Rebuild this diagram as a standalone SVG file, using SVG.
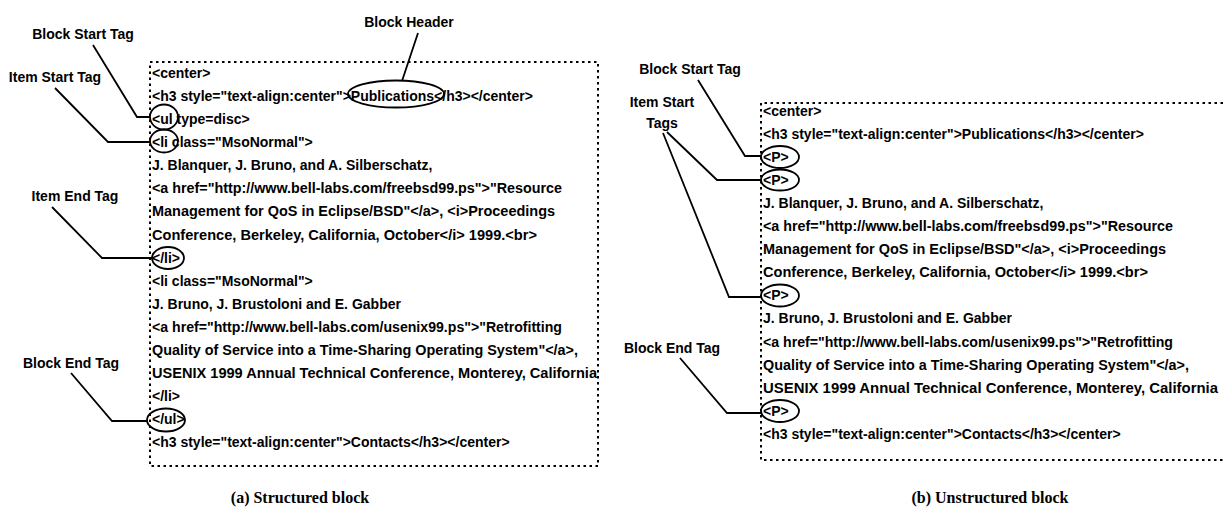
<svg xmlns="http://www.w3.org/2000/svg" width="1223" height="517" viewBox="0 0 1223 517">
  <style>
    .code { font-family: "Liberation Sans", Arial, sans-serif; font-weight: bold; font-size: 14px; fill: #000; }
    .label { font-family: "Liberation Sans", Arial, sans-serif; font-weight: bold; font-size: 14px; fill: #000; }
    .caption { font-family: "Liberation Serif", "Times New Roman", serif; font-weight: bold; font-size: 16px; fill: #000; }
    .box { fill: none; stroke: #000; stroke-width: 2; stroke-dasharray: 2.5 3.5; }
    .ring { fill: none; stroke: #000; stroke-width: 1.8; }
    .wire { fill: none; stroke: #000; stroke-width: 1.8; stroke-linejoin: miter; }
  </style>
  <rect width="1223" height="517" fill="#fff"/>

  <!-- (a) structured block: dotted frame and HTML source -->
  <g id="block-a">
    <rect class="box" x="150" y="62" width="448" height="404"/>
    <g class="code" xml:space="preserve">
      <text x="152" y="78">&lt;center&gt;</text>
      <text x="152" y="101">&lt;h3 style="text-align:center"&gt;Publications&lt;/h3&gt;&lt;/center&gt;</text>
      <text x="152" y="124">&lt;ul type=disc&gt;</text>
      <text x="152" y="147">&lt;li class="MsoNormal"&gt;</text>
      <text x="152" y="170.2">J. Blanquer, J. Bruno,  and A. Silberschatz,</text>
      <text x="152" y="193.3" textLength="410" lengthAdjust="spacingAndGlyphs">&lt;a href="http://www.bell-labs.com/freebsd99.ps"&gt;"Resource</text>
      <text x="152" y="216.4" textLength="403" lengthAdjust="spacingAndGlyphs">Management for QoS in Eclipse/BSD"&lt;/a&gt;, &lt;i&gt;Proceedings</text>
      <text x="152" y="239.5" textLength="385" lengthAdjust="spacingAndGlyphs">Conference, Berkeley, California, October&lt;/i&gt; 1999.&lt;br&gt;</text>
      <text x="152" y="262.6">&lt;/li&gt;</text>
      <text x="152" y="285.7">&lt;li class="MsoNormal"&gt;</text>
      <text x="152" y="308.8">J. Bruno, J. Brustoloni and E. Gabber</text>
      <text x="152" y="331.9" textLength="410" lengthAdjust="spacingAndGlyphs">&lt;a href="http://www.bell-labs.com/usenix99.ps"&gt;"Retrofitting</text>
      <text x="152" y="355" textLength="426" lengthAdjust="spacingAndGlyphs">Quality of Service into a Time-Sharing Operating System"&lt;/a&gt;,</text>
      <text x="152" y="378.1" textLength="445" lengthAdjust="spacingAndGlyphs">USENIX 1999 Annual Technical Conference, Monterey, California</text>
      <text x="152" y="401.2">&lt;/li&gt;</text>
      <text x="152" y="424.3">&lt;/ul&gt;</text>
      <text x="152" y="447.4">&lt;h3 style="text-align:center"&gt;Contacts&lt;/h3&gt;&lt;/center&gt;</text>
    </g>
    <text class="caption" x="300" y="503" text-anchor="middle">(a) Structured block</text>
  </g>

  <!-- (b) unstructured block: open-ended dotted frame and HTML source -->
  <g id="block-b">
    <path class="box" d="M1223 103 H761 V460 H1223"/>
    <g class="code" xml:space="preserve">
      <text x="763" y="115.5">&lt;center&gt;</text>
      <text x="763" y="138.6">&lt;h3 style="text-align:center"&gt;Publications&lt;/h3&gt;&lt;/center&gt;</text>
      <text x="763" y="161.7">&lt;P&gt;</text>
      <text x="763" y="184.8">&lt;P&gt;</text>
      <text x="763" y="207.9">J. Blanquer, J. Bruno,  and A. Silberschatz,</text>
      <text x="763" y="231" textLength="410" lengthAdjust="spacingAndGlyphs">&lt;a href="http://www.bell-labs.com/freebsd99.ps"&gt;"Resource</text>
      <text x="763" y="254.1" textLength="403" lengthAdjust="spacingAndGlyphs">Management for QoS in Eclipse/BSD"&lt;/a&gt;, &lt;i&gt;Proceedings</text>
      <text x="763" y="277.2" textLength="385" lengthAdjust="spacingAndGlyphs">Conference, Berkeley, California, October&lt;/i&gt; 1999.&lt;br&gt;</text>
      <text x="763" y="300.3">&lt;P&gt;</text>
      <text x="763" y="323.4">J. Bruno, J. Brustoloni and E. Gabber</text>
      <text x="763" y="346.5" textLength="410" lengthAdjust="spacingAndGlyphs">&lt;a href="http://www.bell-labs.com/usenix99.ps"&gt;"Retrofitting</text>
      <text x="763" y="369.6" textLength="426" lengthAdjust="spacingAndGlyphs">Quality of Service into a Time-Sharing Operating System"&lt;/a&gt;,</text>
      <text x="763" y="392.7" textLength="455" lengthAdjust="spacingAndGlyphs">USENIX 1999 Annual Technical Conference, Monterey, California</text>
      <text x="763" y="415.8">&lt;P&gt;</text>
      <text x="763" y="438.9">&lt;h3 style="text-align:center"&gt;Contacts&lt;/h3&gt;&lt;/center&gt;</text>
    </g>
    <text class="caption" x="990" y="503" text-anchor="middle">(b) Unstructured block</text>
  </g>

  <!-- tag markers (rings around tags) -->
  <g id="ring-a-header"><ellipse class="ring" cx="396" cy="94" rx="48" ry="13.5"/></g>
  <g id="ring-a-ul"><ellipse class="ring" cx="164" cy="117" rx="14" ry="12.5"/></g>
  <g id="ring-a-li"><ellipse class="ring" cx="164" cy="141" rx="14" ry="11.5"/></g>
  <g id="ring-a-li-end"><ellipse class="ring" cx="168" cy="258" rx="16" ry="11"/></g>
  <g id="ring-a-ul-end"><ellipse class="ring" cx="166" cy="420" rx="19" ry="11.5"/></g>
  <g id="ring-b-start"><ellipse class="ring" cx="780" cy="157" rx="19" ry="11"/></g>
  <g id="ring-b-item1"><ellipse class="ring" cx="780" cy="180" rx="19" ry="10.5"/></g>
  <g id="ring-b-item2"><ellipse class="ring" cx="780" cy="295.5" rx="19" ry="11"/></g>
  <g id="ring-b-end"><ellipse class="ring" cx="780" cy="411" rx="19" ry="11"/></g>

  <!-- callout labels -->
  <g id="label-a-header"><text class="label" x="409" y="27" text-anchor="middle">Block Header</text></g>
  <g id="label-a-block-start"><text class="label" x="83" y="39" text-anchor="middle">Block Start Tag</text></g>
  <g id="label-a-item-start"><text class="label" x="55" y="82" text-anchor="middle">Item Start Tag</text></g>
  <g id="label-a-item-end"><text class="label" x="75" y="201" text-anchor="middle">Item End Tag</text></g>
  <g id="label-a-block-end"><text class="label" x="71" y="368" text-anchor="middle">Block End Tag</text></g>
  <g id="label-b-block-start"><text class="label" x="690" y="74" text-anchor="middle">Block Start Tag</text></g>
  <g id="label-b-item-start"><text class="label" x="662" text-anchor="middle"><tspan x="662" y="107">Item Start</tspan><tspan x="662" y="128">Tags</tspan></text></g>
  <g id="label-b-block-end"><text class="label" x="672" y="353" text-anchor="middle">Block End Tag</text></g>

  <!-- leader lines from labels to the ringed tags -->
  <g id="connectors">
    <path class="wire" d="M418 33 L402 81"/>
    <path class="wire" d="M93 45 L137 117 H150"/>
    <path class="wire" d="M55 88 L108 142 H150"/>
    <path class="wire" d="M52 207 L102 258 H152"/>
    <path class="wire" d="M71 373 L112 421 H147"/>
    <path class="wire" d="M698 80 L745 156 H761"/>
    <path class="wire" d="M667 132 L717 180 H761"/>
    <path class="wire" d="M663 133 L729 297 H761"/>
    <path class="wire" d="M680 358 L727 413 H761"/>
  </g>
</svg>
